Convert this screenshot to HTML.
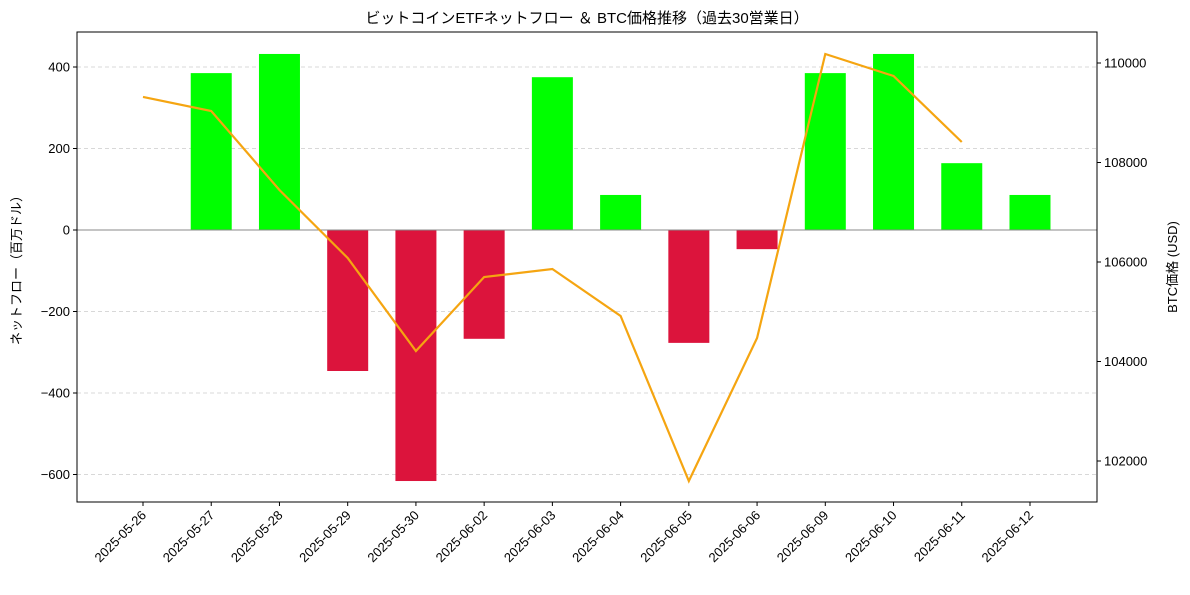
<!DOCTYPE html>
<html><head><meta charset="utf-8"><style>
body{margin:0;background:#fff;font-family:"Liberation Sans","Noto Sans CJK JP",sans-serif}
svg text{font-family:"Liberation Sans","Noto Sans CJK JP",sans-serif}
</style></head><body>
<svg id="c" width="1190" height="590" xmlns="http://www.w3.org/2000/svg"></svg>
<script>
const categories=["2025-05-26","2025-05-27","2025-05-28","2025-05-29","2025-05-30","2025-06-02","2025-06-03","2025-06-04","2025-06-05","2025-06-06","2025-06-09","2025-06-10","2025-06-11","2025-06-12"];
const flows=[0,385,432,-346,-616,-267,375,86,-277,-47,385,432,164,86];
const prices=[109317,109035,107447,106080,104211,105698,105859,104915,101598,104472,110181,109739,108412,null];
const leftTicks=[-600,-400,-200,0,200,400];
const rightTicks=[102000,104000,106000,108000,110000];
const L=77,R=1097,T=32,B=502;
const yL=v=>230-v*0.4075;
const yR=v=>63-(v-110000)*0.04975;
const xC=i=>143+i*68.23;
const svg=document.getElementById('c');
const NS="http://www.w3.org/2000/svg";
function mk(t,a,p){const e=document.createElementNS(NS,t);for(const k in a)e.setAttribute(k,a[k]);(p||svg).appendChild(e);return e;}
// grid
leftTicks.forEach(v=>{const g=mk('line',{x1:L,x2:R,y1:yL(v),y2:yL(v),stroke:'#ccc','stroke-dasharray':'4,3','stroke-width':0.8});
});
// bars
flows.forEach((v,i)=>{if(v===0)return;const y0=yL(0),y1=yL(v);
const r=mk('rect',{x:xC(i)-20.5,y:Math.min(y0,y1),width:41,height:Math.abs(y1-y0),fill:v>0?'#00ff00':'#dc143c'});
});
const z=mk('line',{x1:L,x2:R,y1:yL(0),y2:yL(0),stroke:'#888','stroke-width':1});

// line
let d='';prices.forEach((p,i)=>{if(p==null)return;d+=(d?'L':'M')+xC(i)+','+yR(p);});
const pl=mk('path',{d:d,fill:'none',stroke:'#f5a511','stroke-width':2.2});

// frame
const fr=mk('rect',{x:L,y:T,width:R-L,height:B-T,fill:'none',stroke:'#000','stroke-width':1});

// left ticks
leftTicks.forEach(v=>{mk('line',{x1:L-4,x2:L,y1:yL(v),y2:yL(v),stroke:'#000'});
const t=mk('text',{x:L-7,y:yL(v)+4.5,'text-anchor':'end','font-size':13});t.textContent=(v<0?'−'+(-v):v);
});
rightTicks.forEach(v=>{mk('line',{x1:R,x2:R+4,y1:yR(v),y2:yR(v),stroke:'#000'});
const t=mk('text',{x:R+7,y:yR(v)+4.5,'font-size':13});t.textContent=v;
});
categories.forEach((c,i)=>{const x=xC(i);mk('line',{x1:x,x2:x,y1:B,y2:B+4,stroke:'#000'});
const t=mk('text',{x:x+4,y:B+14,'text-anchor':'end','font-size':13,transform:`rotate(-45 ${x+4} ${B+14})`});t.textContent=c;
});
const tt=mk('text',{x:587,y:23,'text-anchor':'middle','font-size':15});tt.textContent='ビットコインETFネットフロー ＆ BTC価格推移（過去30営業日）';

const yl=mk('text',{x:21,y:267,'text-anchor':'middle','font-size':13,transform:'rotate(-90 21 267)'});yl.textContent='ネットフロー（百万ドル）';

const yr=mk('text',{x:1177,y:267,'text-anchor':'middle','font-size':13,transform:'rotate(-90 1177 267)'});yr.textContent='BTC価格 (USD)';

</script>
</body></html>
